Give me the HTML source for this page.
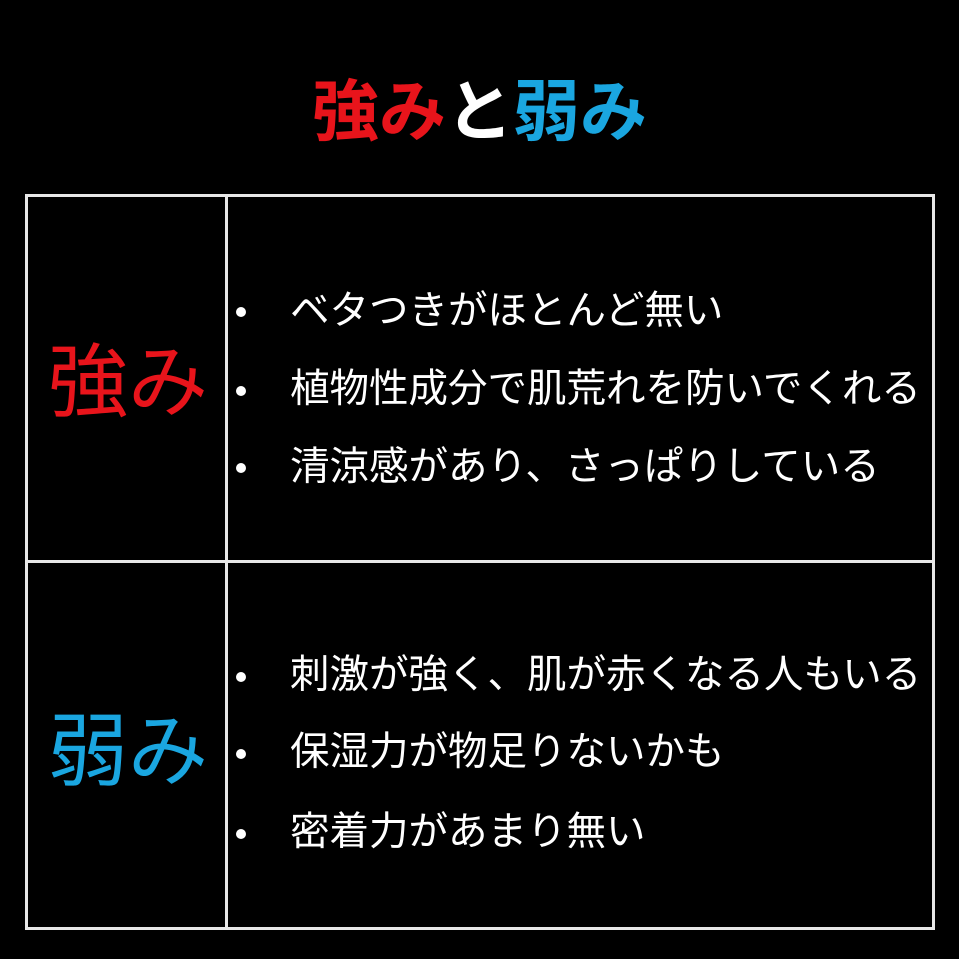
<!DOCTYPE html>
<html><head><meta charset="utf-8"><style>
body{margin:0;background:#000;width:959px;height:959px;overflow:hidden;position:relative;font-family:"Liberation Sans","Noto Sans CJK JP",sans-serif;color:#fff}
.a{position:absolute;white-space:nowrap;line-height:1}
.t{font-size:67px;font-weight:bold;left:0;width:959px;text-align:center;top:79px}
.r{color:#e8141b}.b{color:#1aa6e0}
.box{position:absolute;border:3px solid #e8e8e8;box-sizing:border-box}
.lab{font-size:80px;left:28px;width:200px;text-align:center}
.it{font-size:39.5px;left:290px}
.dot{position:absolute;width:10px;height:10px;border-radius:50%;background:#fff;left:236px}
</style></head><body>
<div class="a t"><span class="r">強み</span>と<span class="b">弱み</span></div>
<div class="box" style="left:25px;top:194px;width:910px;height:736px"></div>
<div class="box" style="left:225px;top:194px;width:3px;height:736px;border-width:0 0 0 3px"></div>
<div class="box" style="left:25px;top:560px;width:910px;height:3px;border-width:3px 0 0 0"></div>
<div class="a lab r" style="top:343px">強み</div>
<div class="a lab b" style="top:712px">弱み</div>
<div class="dot" style="top:307px"></div><div class="a it" style="top:292px">ベタつきがほとんど無い</div>
<div class="dot" style="top:386px"></div><div class="a it" style="top:370px">植物性成分で肌荒れを防いでくれる</div>
<div class="dot" style="top:463px"></div><div class="a it" style="top:448px">清涼感があり、さっぱりしている</div>
<div class="dot" style="top:672px"></div><div class="a it" style="top:656px">刺激が強く、肌が赤くなる人もいる</div>
<div class="dot" style="top:749px"></div><div class="a it" style="top:733px">保湿力が物足りないかも</div>
<div class="dot" style="top:829px"></div><div class="a it" style="top:813px">密着力があまり無い</div>
</body></html>
